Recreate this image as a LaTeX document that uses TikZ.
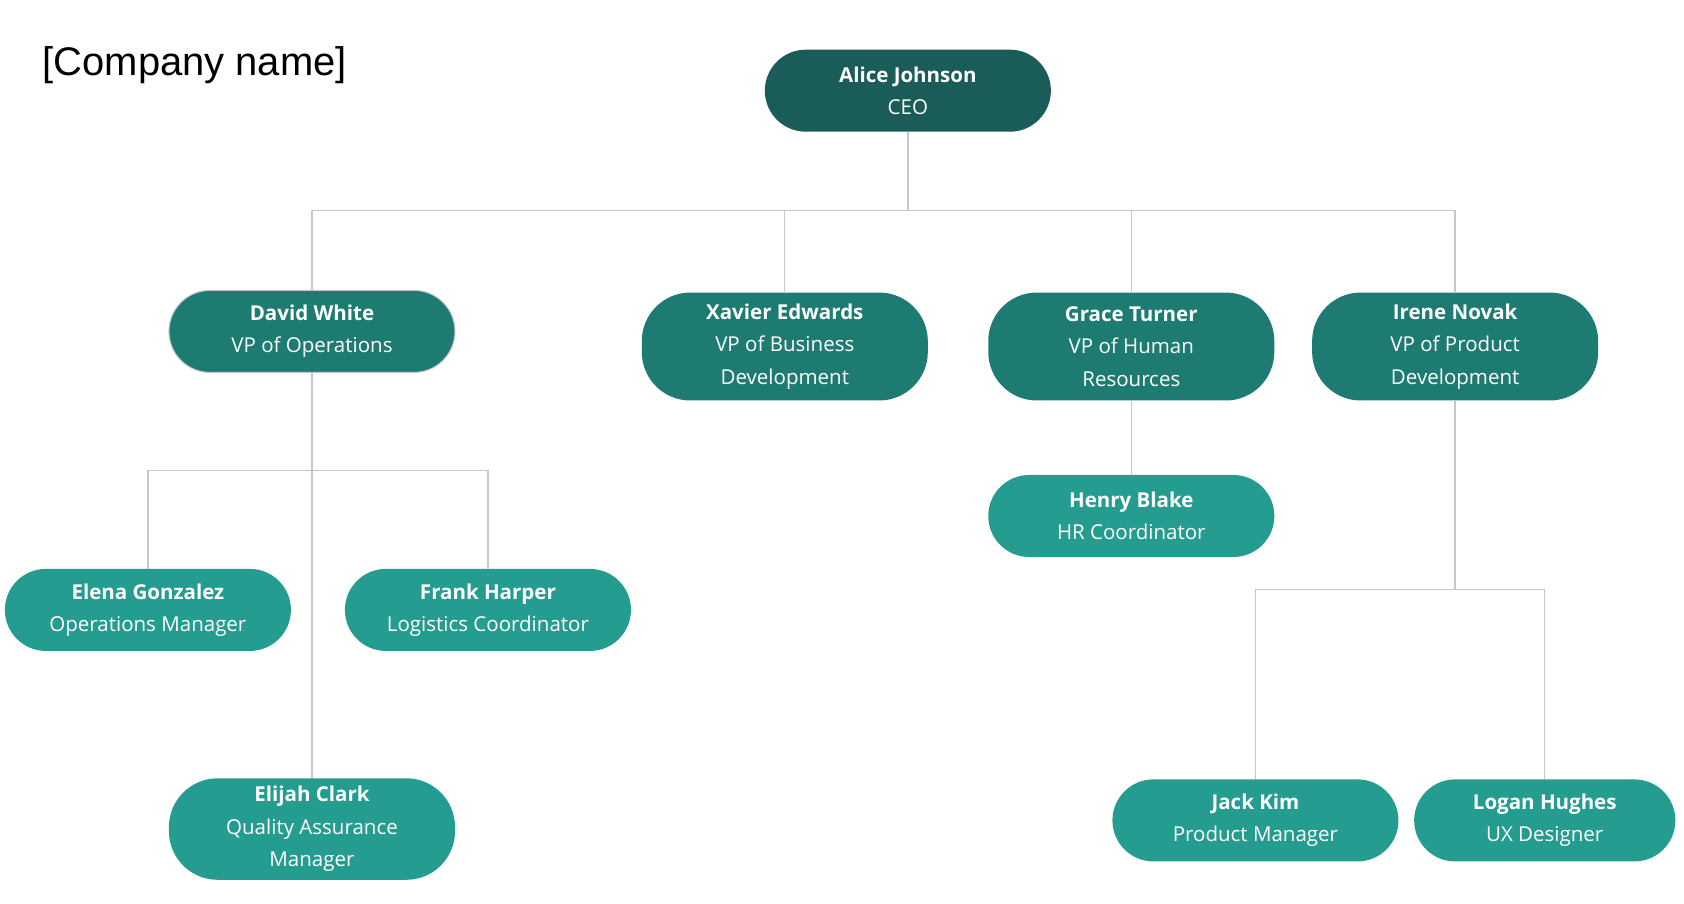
\documentclass[tikz,border=0pt]{standalone}
\usepackage{fontspec}
\setmainfont{Open Sans}
\newfontfamily\headfont{Liberation Sans}
\usetikzlibrary{positioning}
\definecolor{cdark}{HTML}{1A5C57}
\definecolor{cmid}{HTML}{1E7B72}
\definecolor{clight}{HTML}{259C90}
\definecolor{cline}{HTML}{C4C8C8}
\begin{document}
\begin{tikzpicture}[x=1pt,y=-1pt,
  box/.style={rounded corners=38pt,minimum width=265pt,minimum height=76pt,text=white,align=center,font=\fontsize{19}{30}\selectfont,inner sep=0pt},
  conn/.style={draw=cline,line width=1.3pt}]
\useasboundingbox (0,0) rectangle (1560,837);
\node[anchor=west,font=\headfont\fontsize{37}{40}\selectfont] (title) at (36,60) {[Company name]};
\node[box,fill=cdark] (alice) at (841,84) {\textbf{Alice Johnson}\\CEO};
\node[box,fill=cmid,draw=cline,line width=1pt] (david) at (289,307) {\textbf{David White}\\VP of Operations};
\node[box,fill=cmid,minimum height=100pt,rounded corners=45pt] (xavier) at (727,321) {\textbf{Xavier Edwards}\\VP of Business\\Development};
\node[box,fill=cmid,minimum height=100pt,rounded corners=45pt] (grace) at (1048,321) {\textbf{Grace Turner}\\VP of Human\\Resources};
\node[box,fill=cmid,minimum height=100pt,rounded corners=45pt] (irene) at (1348,321) {\textbf{Irene Novak}\\VP of Product\\Development};
\node[box,fill=clight] (henry) at (1048,478) {\textbf{Henry Blake}\\HR Coordinator};
\node[box,fill=clight] (elena) at (137,565) {\textbf{Elena Gonzalez}\\Operations Manager};
\node[box,fill=clight] (frank) at (452,565) {\textbf{Frank Harper}\\Logistics Coordinator};
\node[box,fill=clight,minimum height=94pt,rounded corners=45pt] (elijah) at (289,768) {\textbf{Elijah Clark}\\Quality Assurance\\Manager};
\node[box,fill=clight] (jack) at (1163,760) {\textbf{Jack Kim}\\Product Manager};
\node[box,fill=clight,minimum width=242pt] (logan) at (1431,760) {\textbf{Logan Hughes}\\UX Designer};
\coordinate (a1) at (841,195);
\coordinate (d1) at (289,436);
\coordinate (i1) at (1348,546);
\draw[conn] (alice.south) -- (a1);
\draw[conn] (a1) -| (david.north);
\draw[conn] (a1) -| (xavier.north);
\draw[conn] (a1) -| (grace.north);
\draw[conn] (a1) -| (irene.north);
\draw[conn] (david.south) -- (elijah.north);
\draw[conn] (d1) -| (elena.north);
\draw[conn] (d1) -| (frank.north);
\draw[conn] (grace.south) -- (henry.north);
\draw[conn] (irene.south) -- (i1);
\draw[conn] (i1) -| (jack.north);
\draw[conn] (i1) -| (logan.north);
\end{tikzpicture}
\end{document}
